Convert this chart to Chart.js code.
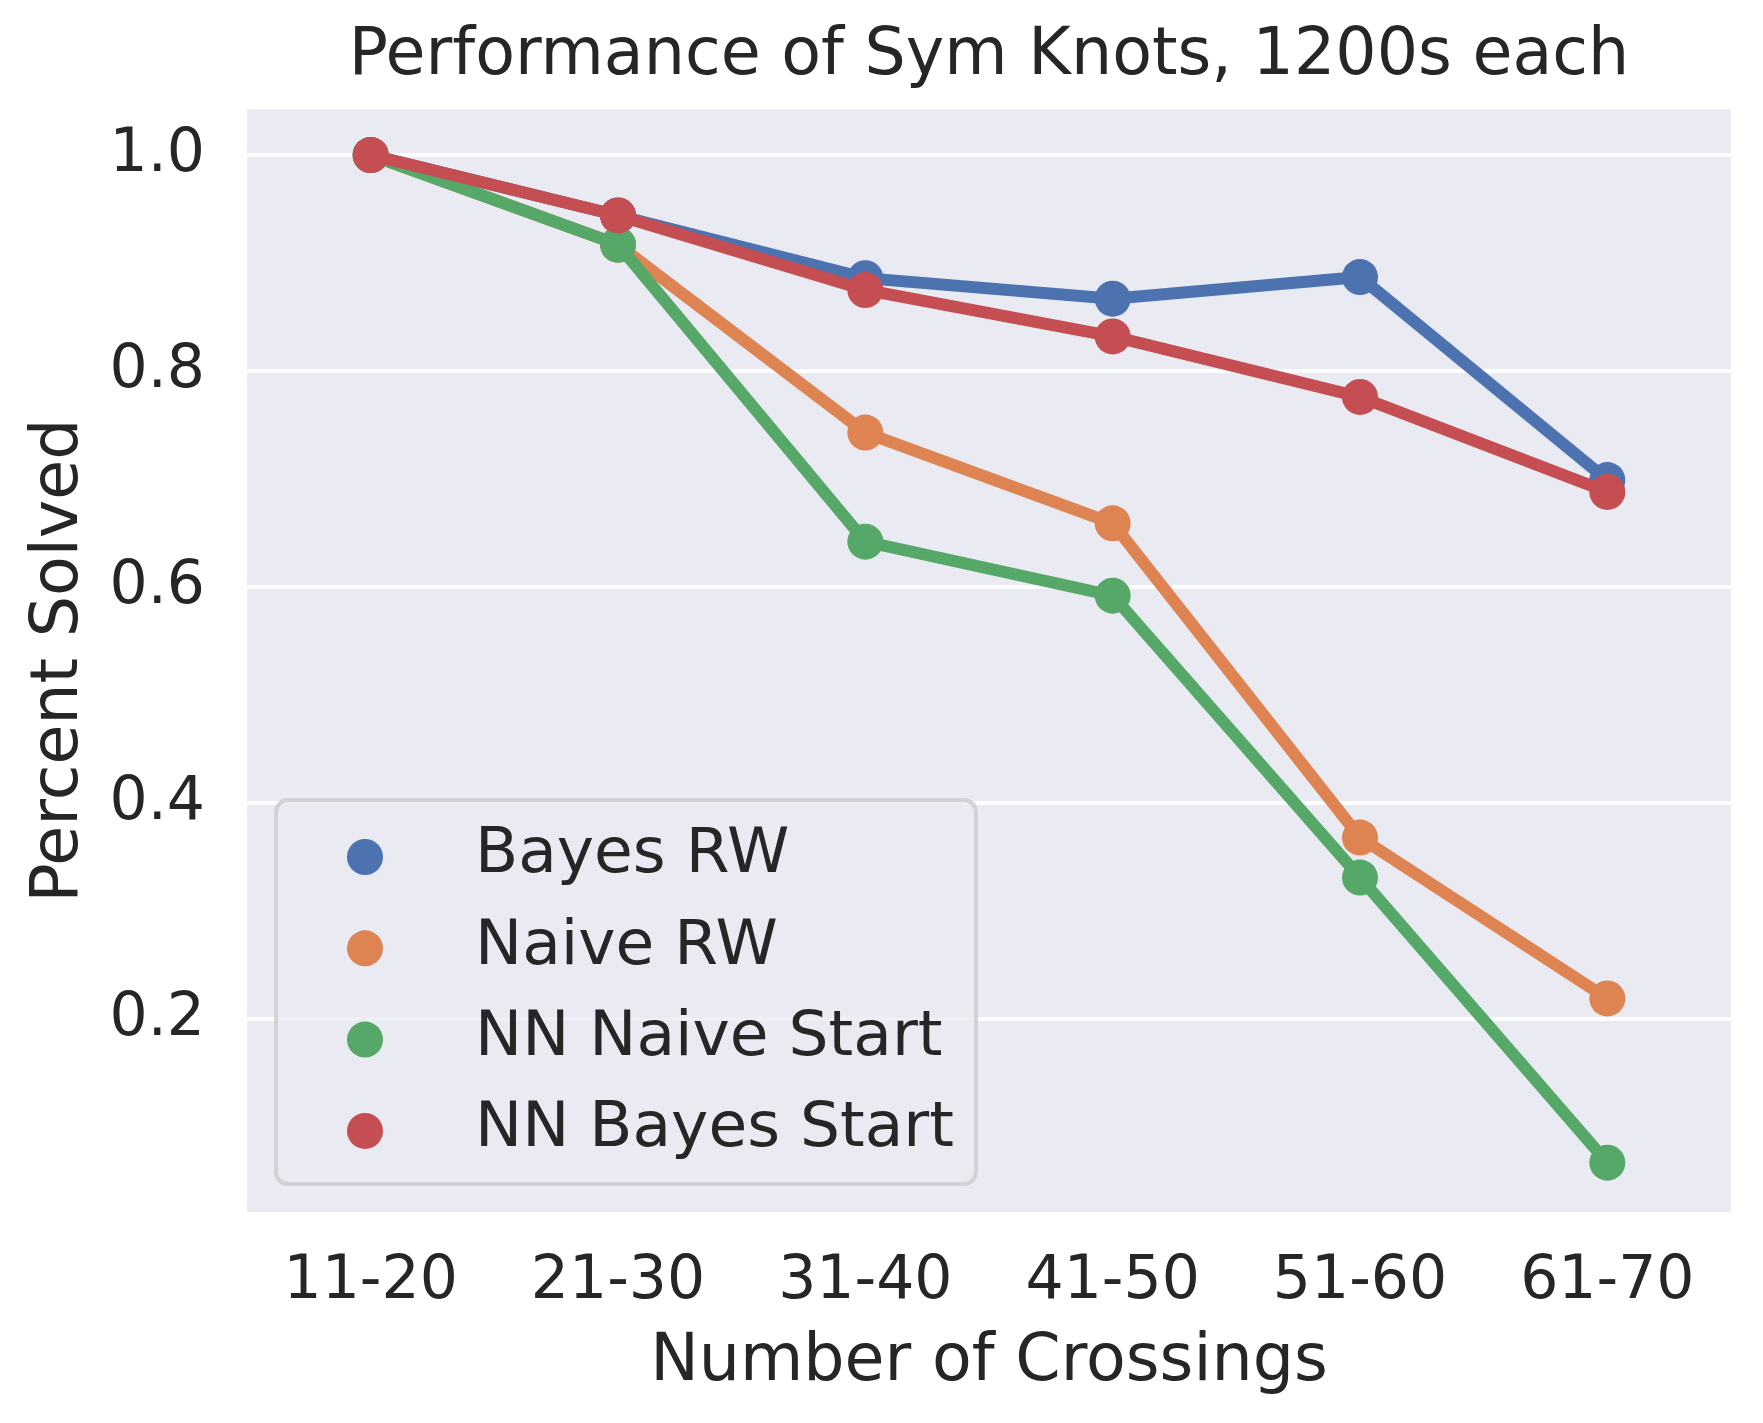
<!DOCTYPE html>
<html>
<head>
<meta charset="utf-8">
<script src="https://cdn.jsdelivr.net/npm/chart.js@4.4.1/dist/chart.umd.min.js"></script>
<style>
  html, body { margin: 0; padding: 0; background: #ffffff; }
  #wrap { width: 1763px; height: 1423px; }
</style>
</head>
<body>
<div id="wrap"><canvas id="lineChart"></canvas></div>
<script>
const categories = ['11-20', '21-30', '31-40', '41-50', '51-60', '61-70'];
const seriesNames = ['Bayes RW', 'Naive RW', 'NN Naive Start', 'NN Bayes Start'];
const bayesRW = [1.0, 0.944, 0.886, 0.867, 0.887, 0.699];
const naiveRW = [1.0, 0.917, 0.743, 0.659, 0.368, 0.219];
const nnNaiveStart = [1.0, 0.917, 0.642, 0.592, 0.331, 0.067];
const nnBayesStart = [1.0, 0.944, 0.875, 0.832, 0.776, 0.688];
const yTicks = [0.2, 0.4, 0.6, 0.8, 1.0];

const colors = ['#4c72b0', '#dd8452', '#55a868', '#c44e52'];
const textColor = '#262626';
const fontFamily = "'DejaVu Sans', sans-serif";

function series(i, values) {
    return {
        label: seriesNames[i],
        data: values,
        borderColor: colors[i],
        backgroundColor: colors[i],
        pointBackgroundColor: colors[i],
        borderWidth: 12,
        pointRadius: 18,
        pointBorderWidth: 0,
        pointHoverRadius: 18,
        tension: 0,
        order: 3 - i
    };
}

// grey panel behind the plot
const panelBg = {
    id: 'panelBg',
    beforeDraw(chart) {
        const a = chart.chartArea;
        const ctx = chart.ctx;
        ctx.save();
        ctx.fillStyle = '#eaeaf2';
        ctx.fillRect(a.left, a.top, a.right - a.left, a.bottom - a.top);
        ctx.restore();
    }
};

// legend inside the plot, lower left
const innerLegend = {
    id: 'innerLegend',
    afterDraw(chart) {
        const a = chart.chartArea;
        const ctx = chart.ctx;
        const x = a.left + 29, w = 700, h = 384;
        const y = a.bottom - 28 - h;
        ctx.save();
        ctx.beginPath();
        ctx.roundRect(x, y, w, h, 12);
        ctx.fillStyle = 'rgba(234,234,242,0.8)';
        ctx.fill();
        ctx.lineWidth = 4;
        ctx.strokeStyle = 'rgba(204,204,204,0.8)';
        ctx.stroke();
        ctx.font = '63px ' + fontFamily;
        ctx.textBaseline = 'middle';
        ctx.textAlign = 'left';
        chart.data.datasets.forEach((ds, i) => {
            const cy = y + 57 + i * 91.3;
            ctx.beginPath();
            ctx.arc(x + 89, cy, 18, 0, Math.PI * 2);
            ctx.fillStyle = ds.borderColor;
            ctx.fill();
            ctx.fillStyle = textColor;
            ctx.fillText(ds.label, x + 199, cy - 1);
        });
        ctx.restore();
    }
};

const data = {
    labels: categories,
    datasets: [
        series(0, bayesRW),
        series(1, naiveRW),
        series(2, nnNaiveStart),
        series(3, nnBayesStart)
    ]
};

const config = {
    type: 'line',
    data,
    plugins: [panelBg, innerLegend],
    options: {
        responsive: true,
        maintainAspectRatio: false,
        animation: false,
        layout: { padding: { left: 0, right: 32, top: 0, bottom: 0 } },
        plugins: {
            legend: { display: false },
            tooltip: { enabled: false },
            title: {
                display: true,
                text: 'Performance of Sym Knots, 1200s each',
                fullSize: false,
                color: textColor,
                font: { family: fontFamily, size: 65, weight: 'normal' },
                padding: { top: 18, bottom: 13 }
            }
        },
        scales: {
            x: {
                offset: true,
                grid: { display: false, drawTicks: false },
                border: { display: false },
                ticks: {
                    color: textColor,
                    font: { family: fontFamily, size: 60 },
                    padding: 34,
                    maxRotation: 0
                },
                title: {
                    display: true,
                    text: 'Number of Crossings',
                    color: textColor,
                    font: { family: fontFamily, size: 65 },
                    padding: { top: 0, bottom: 21 }
                },
                afterFit(scale) { scale.height = 211; }
            },
            y: {
                min: 0.0213,
                max: 1.0426,
                grid: { color: '#ffffff', lineWidth: 4, drawTicks: false },
                border: { display: false },
                ticks: {
                    color: textColor,
                    font: { family: fontFamily, size: 60 },
                    padding: 42,
                    callback: v => v.toFixed(1)
                },
                afterBuildTicks(scale) {
                    scale.ticks = yTicks.map(v => ({ value: v }));
                },
                title: {
                    display: true,
                    text: 'Percent Solved',
                    color: textColor,
                    font: { family: fontFamily, size: 65 },
                    padding: { top: 21, bottom: 0 }
                },
                afterFit(scale) { scale.width = 247; }
            }
        }
    }
};

const lineChart = new Chart(document.getElementById('lineChart').getContext('2d'), config);
</script>
</body>
</html>
